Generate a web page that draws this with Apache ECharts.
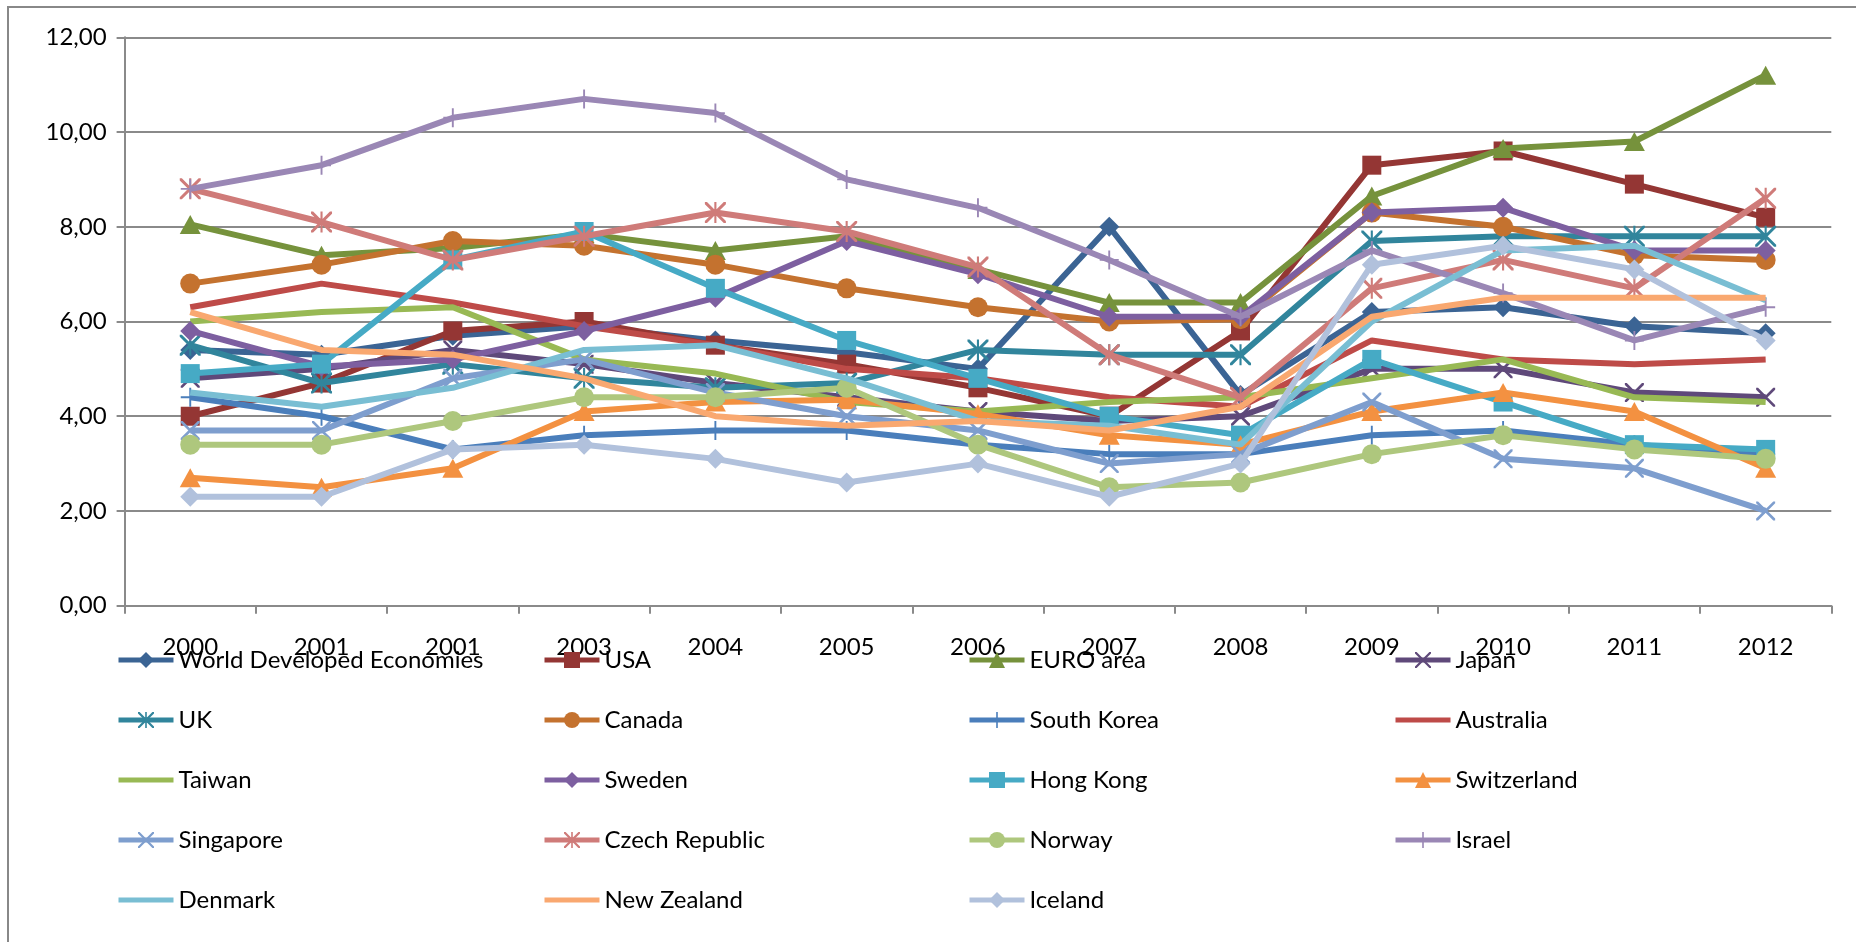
<!DOCTYPE html>
<html><head><meta charset="utf-8">
<script src="https://cdn.jsdelivr.net/npm/echarts@6/dist/echarts.min.js"></script>
<style>html,body{margin:0;padding:0;background:#fff}#c{width:1856px;height:942px}</style>
</head><body><div id="c"></div><script>
// ---- data ----
const years = ['2000','2001','2001','2003','2004','2005','2006','2007','2008','2009','2010','2011','2012'];
const seriesNames = ['World Developed Economies','USA','EURO area','Japan','UK','Canada','South Korea','Australia','Taiwan','Sweden','Hong Kong','Switzerland','Singapore','Czech Republic','Norway','Israel','Denmark','New Zealand','Iceland'];
const worldDeveloped = [5.4, 5.3, 5.7, 5.9, 5.6, 5.35, 5.0, 8.0, 4.45, 6.2, 6.3, 5.9, 5.75];
const usa           = [4.0, 4.7, 5.8, 6.0, 5.5, 5.1, 4.6, 4.0, 5.8, 9.3, 9.6, 8.9, 8.2];
const euroArea      = [8.05, 7.4, 7.55, 7.85, 7.5, 7.8, 7.1, 6.4, 6.4, 8.65, 9.65, 9.8, 11.2];
const japan         = [4.8, 5.0, 5.4, 5.1, 4.7, 4.4, 4.1, 3.9, 4.0, 5.0, 5.0, 4.5, 4.4];
const uk            = [5.5, 4.7, 5.1, 4.8, 4.6, 4.7, 5.4, 5.3, 5.3, 7.7, 7.8, 7.8, 7.8];
const canada        = [6.8, 7.2, 7.7, 7.6, 7.2, 6.7, 6.3, 6.0, 6.05, 8.3, 8.0, 7.4, 7.3];
const southKorea    = [4.4, 4.0, 3.3, 3.6, 3.7, 3.7, 3.4, 3.2, 3.2, 3.6, 3.7, 3.4, 3.2];
const australia     = [6.3, 6.8, 6.4, 5.9, 5.5, 5.0, 4.8, 4.4, 4.2, 5.6, 5.2, 5.1, 5.2];
const taiwan        = [6.0, 6.2, 6.3, 5.2, 4.9, 4.3, 4.1, 4.3, 4.4, 4.8, 5.2, 4.4, 4.3];
const sweden        = [5.8, 5.05, 5.2, 5.8, 6.5, 7.7, 7.0, 6.1, 6.1, 8.3, 8.4, 7.5, 7.5];
const hongKong      = [4.9, 5.1, 7.3, 7.9, 6.7, 5.6, 4.8, 4.0, 3.6, 5.2, 4.3, 3.4, 3.3];
const switzerland   = [2.7, 2.5, 2.9, 4.1, 4.3, 4.35, 4.05, 3.6, 3.4, 4.1, 4.5, 4.1, 2.9];
const singapore     = [3.7, 3.7, 4.8, 5.2, 4.5, 4.0, 3.7, 3.0, 3.2, 4.3, 3.1, 2.9, 2.0];
const czechRepublic = [8.8, 8.1, 7.3, 7.8, 8.3, 7.9, 7.15, 5.3, 4.4, 6.7, 7.3, 6.7, 8.6];
const norway        = [3.4, 3.4, 3.9, 4.4, 4.4, 4.6, 3.4, 2.5, 2.6, 3.2, 3.6, 3.3, 3.1];
const israel        = [8.8, 9.3, 10.3, 10.7, 10.4, 9.0, 8.4, 7.3, 6.1, 7.5, 6.6, 5.6, 6.3];
const denmark       = [4.5, 4.2, 4.6, 5.4, 5.5, 4.8, 3.9, 3.8, 3.4, 6.0, 7.5, 7.6, 6.45];
const newZealand    = [6.2, 5.4, 5.3, 4.8, 4.0, 3.8, 3.9, 3.7, 4.2, 6.1, 6.5, 6.5, 6.5];
const iceland       = [2.3, 2.3, 3.3, 3.4, 3.1, 2.6, 3.0, 2.3, 3.0, 7.2, 7.6, 7.1, 5.6];

const seriesValues = [worldDeveloped, usa, euroArea, japan, uk, canada, southKorea, australia, taiwan, sweden, hongKong, switzerland, singapore, czechRepublic, norway, israel, denmark, newZealand, iceland];

// ---- styles ----
const colors = ['#3B6494','#943634','#76923C','#5F497A','#31859C','#C4722F','#4A7EBB','#BE4B48','#98B954','#7D5FA0','#46AAC5','#F39141','#7E9ECE','#CF7B79','#AEC77D','#9A87B5','#79BED3','#F9A870','#B1C1DC'];
const SYM_X = 'path://M0,0 L2,0 L20,18 L20,20 L18,20 L0,2 Z M18,0 L20,0 L20,2 L2,20 L0,20 L0,18 Z';
const SYM_STAR = 'path://M0,0 L2,0 L20,18 L20,20 L18,20 L0,2 Z M18,0 L20,0 L20,2 L2,20 L0,20 L0,18 Z M9,0 L11,0 L11,20 L9,20 Z';
const SYM_PLUS = 'path://M9,0 L11,0 L11,20 L9,20 Z M0,9 L20,9 L20,11 L0,11 Z';
const BAR_ICON = 'path://M0,0 L55,0 L55,5 L0,5 Z';
const markerCycle = [
  ['diamond',[20,20]], ['rect',[19,19]], ['triangle',[21,19]], [SYM_X,[19,19]], [SYM_STAR,[21,21]],
  ['circle',[20,20]], [SYM_PLUS,[19,19]], ['none',0], ['none',0]
];
const LINE_W = 6;

const series = seriesNames.map((name, i) => {
  const m = markerCycle[i % 9];
  return {
    name, type: 'line', data: seriesValues[i],
    symbol: m[0], symbolSize: m[1], showSymbol: m[0] !== 'none',
    color: colors[i],
    lineStyle: { width: LINE_W, color: colors[i] },
    itemStyle: { color: colors[i] },
    z: 2 + i * 0.01
  };
});

const fontFamily = 'Lato, "Open Sans", sans-serif';
const legendCols = [
  ['World Developed Economies','UK','Taiwan','Singapore','Denmark'],
  ['USA','Canada','Sweden','Czech Republic','New Zealand'],
  ['EURO area','South Korea','Hong Kong','Norway','Iceland'],
  ['Japan','Australia','Switzerland','Israel']
];
const legendLeft = [116, 542, 967, 1393];
const legends = legendCols.map((col, k) => ({
  data: col.map(n => {
    const i = seriesNames.indexOf(n);
    return markerCycle[i % 9][0] === 'none' ? { name: n, icon: BAR_ICON } : { name: n };
  }),
  orient: 'vertical', left: legendLeft[k], top: 645, padding: 0,
  itemWidth: 55, itemHeight: 20, itemGap: 30,
  lineStyle: { width: 5 },
  textStyle: { fontFamily, fontSize: 24, color: '#000', lineHeight: 30 },
  selectedMode: false
}));

const chart = echarts.init(document.getElementById('c'), null, { renderer: 'canvas' });
chart.setOption({
  animation: false,
  backgroundColor: '#fff',
  graphic: [{ type: 'rect', shape: { x: 8, y: 7, width: 1870, height: 960 }, style: { fill: 'none', stroke: '#888', lineWidth: 2 }, silent: true, z: -1 }],
  grid: { left: 124.6, right: 24.7, top: 37.3, bottom: 336.3 },
  xAxis: {
    type: 'category', data: years, boundaryGap: true,
    axisLine: { lineStyle: { color: '#8a8a8a', width: 2 } },
    axisTick: { show: true, length: 8, lineStyle: { color: '#8a8a8a', width: 2 } },
    axisLabel: { color: '#000', fontFamily, fontSize: 24, margin: 30, interval: 0 }
  },
  yAxis: {
    type: 'value', min: 0, max: 12, interval: 2,
    axisLine: { show: true, lineStyle: { color: '#8a8a8a', width: 2 } },
    axisTick: { show: true, length: 8, lineStyle: { color: '#8a8a8a', width: 2 } },
    splitLine: { lineStyle: { color: '#8a8a8a', width: 2 } },
    axisLabel: { color: '#000', fontFamily, fontSize: 24, margin: 18, formatter: v => v.toFixed(2).replace('.', ',') }
  },
  legend: legends,
  series
});
</script></body></html>
